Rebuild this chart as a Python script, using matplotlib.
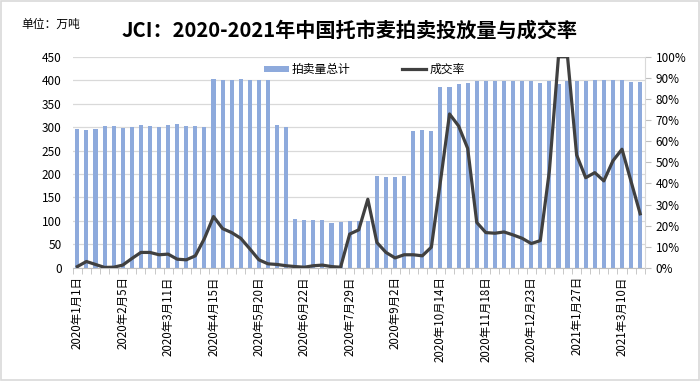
import matplotlib
matplotlib.use('Agg')
import matplotlib.pyplot as plt
from matplotlib.patches import Rectangle

plt.rcParams['font.family'] = ['Noto Sans CJK SC', 'DejaVu Sans']

# weekly auction volume (万吨) and deal rate (%)
volume = [295, 293, 295, 303, 302, 299, 300, 304, 302, 300, 304, 307, 303, 303, 300,
          403, 400, 401, 403, 400, 400, 400, 304, 300,
          104, 102, 102, 101, 95, 98, 100, 100, 100,
          196, 193, 193, 195, 292, 293, 291,
          385, 385, 393, 395, 399, 399, 399, 399, 399, 398, 399, 394, 399, 391,
          399, 399, 399, 400, 400, 400, 400, 397, 397]
rate = [0.6, 3.0, 1.6, 0.2, 0.3, 1.3, 4.4, 7.3, 7.3, 6.2, 6.5, 4.1, 3.8, 5.7, 13.9,
        24.3, 18.6, 16.7, 14.0, 9.0, 3.8, 1.9, 1.6, 1.0,
        0.6, 0.3, 1.0, 1.3, 0.6, 0.3, 16.0, 18.0, 32.5,
        12.0, 7.3, 4.7, 6.2, 6.2, 5.7, 9.8,
        41.0, 72.9, 67.2, 56.6, 21.5, 16.7, 16.4, 17.0, 15.6, 14.0, 11.5, 12.9, 46.0, 100.0,
        100.0, 53.5, 42.7, 45.1, 41.2, 50.7, 56.2, 40.9, 25.6]
tick_labels = ['2020年1月1日', '2020年2月5日', '2020年3月11日', '2020年4月15日',
               '2020年5月20日', '2020年6月22日', '2020年7月29日', '2020年9月2日',
               '2020年10月14日', '2020年11月18日', '2020年12月23日', '2021年1月27日',
               '2021年3月10日']

fig = plt.figure(figsize=(7, 3.81), dpi=100)
ax = fig.add_axes([0.104, 0.297, 0.817, 0.554])
x = list(range(len(volume)))

bars = ax.bar(x, volume, width=0.45, color='#8eaadc', zorder=2, label='拍卖量总计')
ax.set_xlim(-0.5, len(volume) - 0.5)
ax.set_ylim(0, 450)
ax.set_yticks(range(0, 451, 50))
ax.grid(axis='y', color='#d9d9d9', linewidth=0.9, zorder=0)
ax.set_xticks(x[::5])
ax.set_xticklabels(tick_labels, rotation=90, fontsize=8.3)
ax.set_xticks([i - 0.5 for i in range(len(volume) + 1)], minor=True)
ax.tick_params(axis='x', which='major', length=0, pad=6)
ax.tick_params(axis='x', which='minor', length=4, color='#bfbfbf')
ax.tick_params(axis='y', length=0, labelsize=8.5, pad=8)
for s in ['top', 'left', 'right']:
    ax.spines[s].set_visible(False)
ax.spines['bottom'].set_color('#bfbfbf')

ax2 = ax.twinx()
line, = ax2.plot(x, rate, color='#404040', linewidth=2.3, zorder=3, label='成交率')
ax2.set_ylim(0, 100)
ax2.set_yticks(range(0, 101, 10))
ax2.set_yticklabels([f'{v}%' for v in range(0, 101, 10)])
ax2.tick_params(axis='y', length=4, color='#bfbfbf', labelsize=8.5, pad=4)
for s in ['top', 'left', 'bottom']:
    ax2.spines[s].set_visible(False)
ax2.spines['right'].set_color('#d9d9d9')

ax2.legend([bars, line], ['拍卖量总计', '成交率'], loc='upper center',
           bbox_to_anchor=(0.51, 1.02), ncol=2, frameon=False, fontsize=8.5,
           handlelength=2.1, handleheight=0.5, columnspacing=4.3, handletextpad=0.25)

fig.text(0.5, 0.92, 'JCI：2020-2021年中国托市麦拍卖投放量与成交率',
         ha='center', va='center', fontsize=14.5, fontweight='bold')
fig.text(0.03, 0.935, '单位：万吨', ha='left', va='center', fontsize=8.5)

fig.patches.append(Rectangle((0.002, 0.003), 0.996, 0.994, transform=fig.transFigure,
                             fill=False, edgecolor='#d9d9d9', linewidth=1.2))

fig.savefig('out.png', dpi=100)
